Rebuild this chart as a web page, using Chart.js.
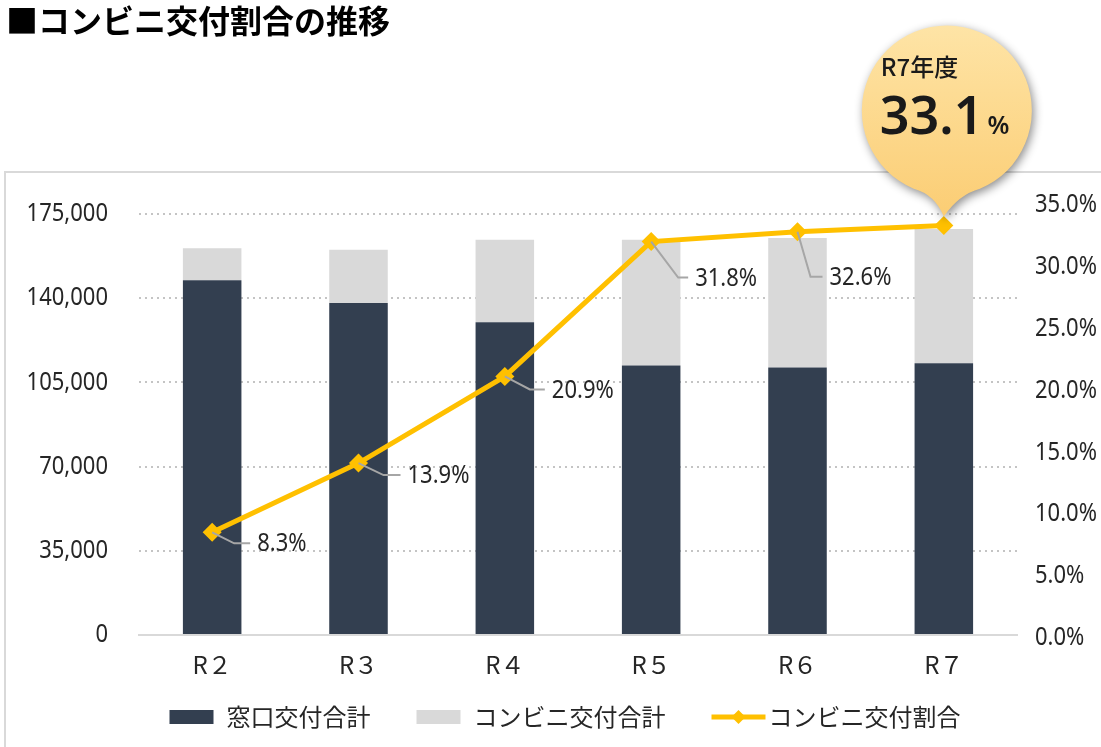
<!DOCTYPE html>
<html>
<head>
<meta charset="utf-8">
<script src="https://cdn.jsdelivr.net/npm/chart.js@4.4.1/dist/chart.umd.min.js"></script>
<style>
  html, body { margin: 0; padding: 0; background: #fff; }
  #wrap { width: 1101px; height: 747px; position: relative; }
</style>
</head>
<body>
<div id="wrap"><canvas id="ratioChart" width="1101" height="747"></canvas></div>
<script>
// data
const years = ['R２', 'R３', 'R４', 'R５', 'R６', 'R７'];
const counterTotals = [147500, 138000, 130000, 112000, 111200, 113000];
const konbiniTotals = [13300, 22200, 34300, 52300, 53800, 55800];
const konbiniRatio = [8.3, 13.9, 20.9, 31.8, 32.6, 33.1];
const leftTicks = [0, 35000, 70000, 105000, 140000, 175000];
const rightTicks = [0, 5, 10, 15, 20, 25, 30, 35];

const NAVY = '#333f50';
const GREY = '#d9d9d9';
const GOLD = '#ffc000';
const TEXT = '#262626';
const numFont = "'Noto Sans', sans-serif";
const jpFont = "'Noto Sans CJK JP', sans-serif";

// leader line offsets for the data labels: [elbowX, elbowY, endX]
const leaderOffsets = [[22, 11, 38], [25, 12, 42], [25, 13, 40], [27, 36, 37], [13, 45, 25]];

// narrow numeric text (the original uses a condensed face)
function narrowText(ctx, text, x, y, align) {
    const sx = 0.88;
    ctx.save();
    ctx.font = "25px " + numFont;
    ctx.fillStyle = TEXT;
    ctx.textBaseline = 'middle';
    const w = ctx.measureText(text).width * sx;
    let left = x;
    if (align === 'right') left = x - w;
    ctx.translate(left, y);
    ctx.scale(sx, 1);
    ctx.textAlign = 'left';
    ctx.fillText(text, 0, 0);
    ctx.restore();
}

function drawLegend(chart) {
    const ctx = chart.ctx;
    const y = 717, boxW = 44, gap = 13, itemGap = 46;
    ctx.save();
    ctx.font = "24px " + jpFont;
    ctx.textBaseline = 'middle';
    const items = chart.data.datasets.map((ds, i) => {
        const sw = i === 2 ? 54 : boxW;
        return { ds, sw, w: sw + gap - (i === 2 ? 10 : 0) + ctx.measureText(ds.label).width };
    });
    const total = items.reduce((s, it) => s + it.w, 0) + itemGap * (items.length - 1);
    let x = 565 - total / 2;
    items.forEach((it) => {
        if (it.ds.type === 'line') {
            ctx.strokeStyle = GOLD;
            ctx.lineWidth = 5;
            ctx.beginPath(); ctx.moveTo(x, y); ctx.lineTo(x + it.sw, y); ctx.stroke();
            ctx.fillStyle = GOLD;
            const m = x + it.sw / 2;
            ctx.beginPath(); ctx.moveTo(m, y - 7); ctx.lineTo(m + 7, y); ctx.lineTo(m, y + 7); ctx.lineTo(m - 7, y); ctx.closePath(); ctx.fill();
            ctx.fillStyle = TEXT;
            ctx.fillText(it.ds.label, x + it.sw + 3, y);
        } else {
            ctx.fillStyle = it.ds.backgroundColor;
            ctx.fillRect(x, y - 7, it.sw, 14);
            ctx.fillStyle = TEXT;
            ctx.fillText(it.ds.label, x + it.sw + gap, y);
        }
        x += it.w + itemGap;
    });
    ctx.restore();
}

const decorPlugin = {
    id: 'decor',
    beforeDraw(chart) {
        const ctx = chart.ctx;
        ctx.save();
        ctx.fillStyle = '#fff';
        ctx.fillRect(0, 0, chart.width, chart.height);
        ctx.strokeStyle = '#d9d9d9';
        ctx.lineWidth = 2;
        ctx.strokeRect(5, 172, 1300, 800);
        ctx.fillStyle = '#000';
        ctx.font = "bold 32px " + jpFont;
        ctx.textBaseline = 'middle';
        ctx.fillText('■コンビニ交付割合の推移', 6, 21);
        ctx.restore();
    },
    afterDatasetsDraw(chart) {
        const ctx = chart.ctx;
        const area = chart.chartArea;
        // axis tick labels, placed by the chart's own scales
        const yl = chart.scales.y, yr = chart.scales.y1;
        yl.ticks.forEach(t => narrowText(ctx, t.value.toLocaleString('en-US'), area.left - 31, yl.getPixelForValue(t.value), 'right'));
        yr.ticks.forEach(t => narrowText(ctx, t.value.toFixed(1) + '%', area.right + 18, yr.getPixelForValue(t.value) + 3, 'left'));

        const meta = chart.getDatasetMeta(2);
        meta.data.forEach((pt, i) => {
            const off = leaderOffsets[i];
            if (!off) return;
            ctx.save();
            ctx.strokeStyle = '#a6a6a6';
            ctx.lineWidth = 2;
            ctx.beginPath();
            ctx.moveTo(pt.x, pt.y);
            ctx.lineTo(pt.x + off[0], pt.y + off[1]);
            ctx.lineTo(pt.x + off[2], pt.y + off[1]);
            ctx.stroke();
            ctx.restore();
            narrowText(ctx, konbiniRatio[i].toFixed(1) + '%', pt.x + off[2] + 7, pt.y + off[1] + 1, 'left');
        });
    },
    afterDraw(chart) {
        drawLegend(chart);
        // callout bubble pointing at the last value
        const ctx = chart.ctx;
        const meta = chart.getDatasetMeta(2);
        const last = meta.data[meta.data.length - 1];
        const tipX = last.x, tipY = last.y - 9;
        const cx = tipX + 3, cy = tipY - 106, r = 85;
        ctx.save();
        const grad = ctx.createLinearGradient(0, cy - r, 0, tipY);
        grad.addColorStop(0, '#fee4a6');
        grad.addColorStop(1, '#fbcd74');
        ctx.shadowColor = 'rgba(0,0,0,0.45)';
        ctx.shadowBlur = 10;
        ctx.shadowOffsetX = 2;
        ctx.shadowOffsetY = 3;
        ctx.fillStyle = grad;
        ctx.beginPath();
        const a = 0.4;
        ctx.arc(cx, cy, r, Math.PI / 2 + a, Math.PI / 2 - a, false);
        ctx.quadraticCurveTo(cx + 12, tipY - 22, tipX, tipY);
        ctx.quadraticCurveTo(cx - 12, tipY - 22, cx - r * Math.sin(a), cy + r * Math.cos(a));
        ctx.closePath();
        ctx.fill();
        ctx.restore();

        ctx.save();
        ctx.fillStyle = '#1a1a1a';
        ctx.textBaseline = 'alphabetic';
        ctx.font = "500 24px " + jpFont;
        ctx.fillText('R7年度', cx - 66, cy - 35);
        ctx.font = "600 52px 'Noto Sans', sans-serif";
        const big = konbiniRatio[konbiniRatio.length - 1].toFixed(1);
        ctx.fillText(big, cx - 67, cy + 23);
        const w = ctx.measureText(big).width;
        ctx.font = "600 25px 'Noto Sans', sans-serif";
        ctx.fillText('%', cx - 67 + w + 4, cy + 23);
        ctx.restore();
    }
};

const ctx = document.getElementById('ratioChart').getContext('2d');

new Chart(ctx, {
    data: {
        labels: years,
        datasets: [{
            type: 'bar',
            label: '窓口交付合計',
            data: counterTotals,
            backgroundColor: NAVY,
            stack: 'total',
            yAxisID: 'y',
            order: 2,
            barPercentage: 0.4,
            categoryPercentage: 1
        }, {
            type: 'bar',
            label: 'コンビニ交付合計',
            data: konbiniTotals,
            backgroundColor: GREY,
            stack: 'total',
            yAxisID: 'y',
            order: 2,
            barPercentage: 0.4,
            categoryPercentage: 1
        }, {
            type: 'line',
            label: 'コンビニ交付割合',
            data: konbiniRatio,
            yAxisID: 'y1',
            order: 0,
            borderColor: GOLD,
            backgroundColor: GOLD,
            borderWidth: 5,
            tension: 0,
            pointStyle: 'rectRot',
            pointRadius: 6,
            pointBackgroundColor: GOLD,
            pointBorderColor: GOLD
        }]
    },
    options: {
        responsive: false,
        animation: false,
        layout: { padding: { top: 202, left: 32, right: 0, bottom: 60 } },
        plugins: {
            tooltip: { enabled: false },
            legend: { display: false }
        },
        scales: {
            x: {
                stacked: true,
                grid: { display: false },
                border: { display: true, color: '#d9d9d9', width: 2 },
                ticks: { color: TEXT, padding: 7, font: { family: jpFont, size: 24 } },
                afterFit: (s) => { s.height = 52; }
            },
            y: {
                stacked: true,
                position: 'left',
                min: 0,
                max: 180000,
                afterBuildTicks: (s) => { s.ticks = leftTicks.map(v => ({ value: v })); },
                afterFit: (s) => { s.width = 107; },
                grid: { color: '#c4c4c4', lineWidth: 2, drawTicks: false },
                border: { display: false, dash: [2, 4] },
                ticks: { display: false }
            },
            y1: {
                position: 'right',
                min: 0,
                max: 35,
                afterBuildTicks: (s) => { s.ticks = rightTicks.map(v => ({ value: v })); },
                afterFit: (s) => { s.width = 84; },
                grid: { display: false, drawTicks: false },
                border: { display: false },
                ticks: { display: false }
            }
        }
    },
    plugins: [decorPlugin]
});
</script>
</body>
</html>
